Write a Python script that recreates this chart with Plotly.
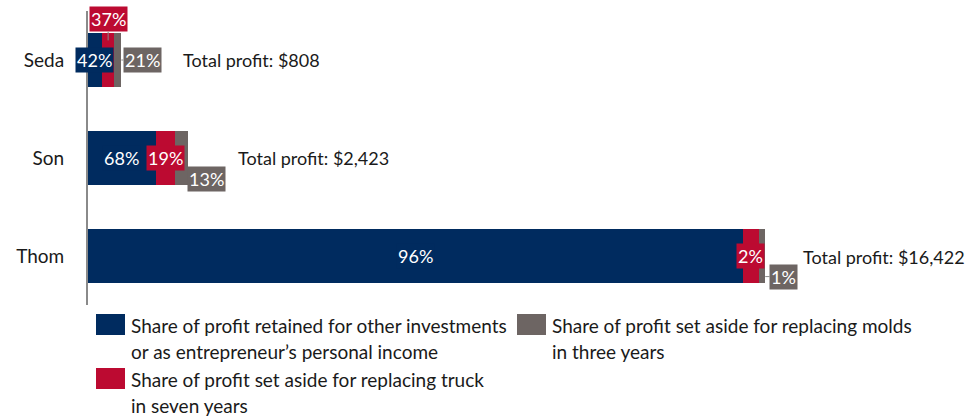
import plotly.graph_objects as go

# ---------------- data ----------------
people = ["Seda", "Son", "Thom"]
total_profit = [808, 2423, 16422]
total_labels = ["Total profit: $808", "Total profit: $2,423", "Total profit: $16,422"]

retained = [339, 1648, 15880]   # $ retained for other investments / personal income
truck = [299, 460, 380]         # $ set aside for replacing truck
molds = [170, 315, 162]         # $ set aside for replacing molds

retained_pct = ["42%", "68%", "96%"]
truck_pct = ["37%", "19%", "2%"]
molds_pct = ["21%", "13%", "1%"]

series_names = [
    "Share of profit retained for other investments\nor as entrepreneur\u2019s personal income",
    "Share of profit set aside for replacing truck\nin seven years",
    "Share of profit set aside for replacing molds\nin three years",
]
colors = ["#002B5F", "#BC0A31", "#6D6563"]

# ---------------- layout constants ----------------
W, H = 974, 419
ML, MR, MT, MB = 88, 20, 11, 114
PW, PH = W - ML - MR, H - MT - MB
FONT = "Lato"
FS = 19      # general text
FST = 18     # total profit labels
FSL = 18     # percent labels

fig = go.Figure()
for vals, name, col in zip([retained, truck, molds], series_names, colors):
    fig.add_trace(go.Bar(
        y=people, x=vals, orientation="h", name=name.replace("\n", " "),
        marker=dict(color=col, line=dict(width=0)), width=0.56,
        showlegend=False, hoverinfo="skip",
    ))

ann = []
# retained labels (centred on blue segment)
for i, (r, t) in enumerate(zip(retained, retained_pct)):
    ann.append(dict(x=r / 2, y=i, xref="x", yref="y", text=t, showarrow=False,
                    font=dict(color="white", size=FSL, family=FONT),
                    bgcolor=colors[0], borderpad=1))

# truck labels
for i, (r, tr, t) in enumerate(zip(retained, truck, truck_pct)):
    cx = r + tr / 2
    if i == 0:
        ann.append(dict(x=cx, y=i - 0.2, xref="x", yref="y", text=t, showarrow=True,
                        arrowhead=0, arrowwidth=1, arrowcolor="#8a8a8a", ax=0, ay=-21,
                        font=dict(color="white", size=FSL, family=FONT),
                        bgcolor=colors[1], borderpad=1))
    else:
        ann.append(dict(x=cx, y=i, xref="x", yref="y", text=t, showarrow=False,
                        font=dict(color="white", size=FSL, family=FONT),
                        bgcolor=colors[1], borderpad=1))

# molds labels (to the right of the bar end)
mold_dy = [0, 0.21, 0.21]
mold_ax = [21, 18.5, 18.5]
for i, (tot, t) in enumerate(zip(total_profit, molds_pct)):
    ann.append(dict(x=tot, y=i + mold_dy[i], xref="x", yref="y", text=t, showarrow=True,
                    arrowhead=0, arrowwidth=1, arrowcolor="#8a8a8a", ax=mold_ax[i], ay=0,
                    font=dict(color="white", size=FSL, family=FONT),
                    bgcolor=colors[2], borderpad=1))

# total profit labels
tot_anchor = ["left", "left", "right"]
tot_shift = [60, 48, 202]
for i, (tot, t) in enumerate(zip(total_profit, total_labels)):
    ann.append(dict(x=tot, y=i, xref="x", yref="y", text=t, showarrow=False,
                    xanchor=tot_anchor[i], xshift=tot_shift[i], yshift=-1 if i == 2 else 0,
                    font=dict(color="#1a1a1a", size=FST, family=FONT)))

# ---------------- manual legend ----------------
def px2x(px):
    return (px - ML) / PW

def py2y(py):
    return ((MT + PH) - py) / PH

shapes = []
legend_pos = [(96, 314), (96, 368), (517, 314)]  # swatch top-left pixel for each series
for name, col, (sx, sy) in zip(series_names, colors, legend_pos):
    shapes.append(dict(type="rect", xref="paper", yref="paper",
                       x0=px2x(sx), x1=px2x(sx + 29), y0=py2y(sy), y1=py2y(sy + 21),
                       fillcolor=col, line=dict(width=0)))
    for k, line in enumerate(name.split("\n")):
        ann.append(dict(x=px2x(sx + 33), y=py2y(sy + 11 + 26 * k), xref="paper", yref="paper",
                        text=line, showarrow=False, xanchor="left", yanchor="middle",
                        font=dict(color="#1a1a1a", size=FS, family=FONT)))

fig.update_layout(
    width=W, height=H, barmode="stack",
    margin=dict(l=ML, r=MR, t=MT, b=MB, autoexpand=False),
    plot_bgcolor="white", paper_bgcolor="white",
    font=dict(family=FONT, size=FS, color="#1a1a1a"),
    xaxis=dict(range=[0, 21000], visible=False, showgrid=False, zeroline=False,
               automargin=False),
    yaxis=dict(range=[2.5, -0.5], showline=True, linecolor="#8a8a8a", linewidth=2,
               showgrid=False, zeroline=False, ticks="", ticklabelstandoff=18,
               automargin=False,
               tickfont=dict(family=FONT, size=FS, color="#1a1a1a"), layer="below traces"),
    annotations=ann, shapes=shapes,
)

fig.write_html(
    "out.html",
    config={"displayModeBar": False},
    post_script="document.body.style.margin='0';document.body.style.padding='0';",
)
